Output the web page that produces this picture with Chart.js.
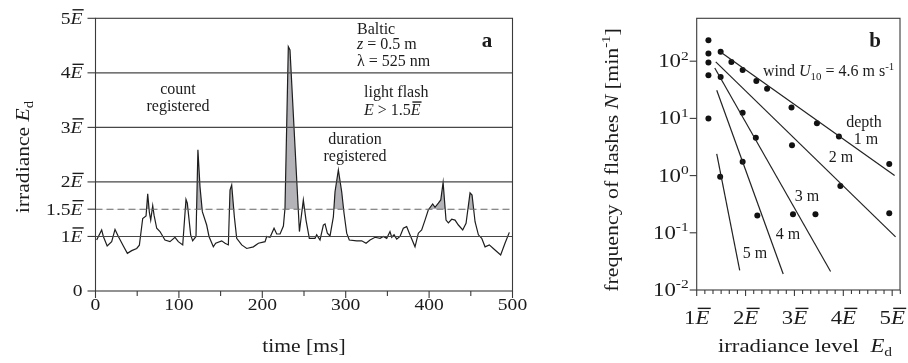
<!DOCTYPE html>
<html>
<head>
<meta charset="utf-8">
<script src="https://cdn.jsdelivr.net/npm/chart.js@4.4.0/dist/chart.umd.min.js"></script>
<style>
  body { margin: 0; background: #fff; }
  #wrap { position: relative; width: 908px; height: 363px; overflow: hidden; }
  canvas { position: absolute; top: 0; }
  #chart-a { left: 0; }
  #chart-b { left: 560px; }
</style>
</head>
<body>
<div id="wrap">
  <canvas id="chart-a" width="540" height="363"></canvas>
  <canvas id="chart-b" width="348" height="363"></canvas>
</div>
<script>
// Panel a: irradiance trace (time in ms, irradiance in units of mean E)
const timeMs = [1.4, 7.4, 9.4, 14, 19.4, 23.4, 27.4, 33.4, 38.2, 43.4, 49.4, 52.6, 56.6, 60.6, 62.6, 64.6, 66.2, 68.6, 70.2, 73.4,
  77.3, 83.3, 89.3, 95.3, 99.3, 104.6, 108.5, 110.1, 114.1, 116.5, 120.5, 122.8, 125.3, 128.1, 133.3, 136.1, 141.3, 144.1, 151.3, 155.3,
  159.3, 161.3, 163.3, 166.5, 169.3, 175.3, 181.3, 189.3, 195.3, 203.3, 205.3, 209.3, 214.1, 217.3, 221.3, 225.3, 227.2, 231.2, 233.2, 244.5,
  249.2, 252.4, 256.4, 263.2, 265.2, 269.2, 273.2, 275.2, 278, 281.2, 285.2, 287.2, 291.2, 295.2, 298, 301.2, 304.3, 313.2, 319.2, 324.4,
  329.2, 335.2, 341.2, 345.1, 349.2, 353.1, 355.2, 358, 361.2, 365.1, 369.1, 373.1, 376.3, 383.1, 387.1, 391.1, 395.1, 399, 404.3, 407.1,
  411.1, 414, 416.8, 420.3, 423.1, 427.1, 431.1, 435.1, 440.3, 444.3, 449.1, 451.5, 455.1, 459.1, 463.1, 467.1, 472.2, 477, 485.8, 491, 496.2];
const irradiance = [0.935, 1.12, 1.0, 0.825, 0.905, 1.13, 1.0, 0.825, 0.69, 0.74, 0.78, 0.84, 1.33, 1.375, 1.78, 1.44, 1.30, 1.565, 1.39, 1.15,
  1.09, 0.935, 0.905, 0.985, 0.905, 0.845, 1.68, 1.61, 1.03, 0.92, 1.0, 2.59, 1.91, 1.455, 1.21, 1.0, 0.81, 0.875, 0.92, 0.875,
  0.845, 1.85, 1.945, 1.36, 0.965, 0.845, 0.78, 0.81, 0.875, 0.905, 1.0, 0.985, 1.15, 1.045, 1.045, 1.19, 1.515, 4.48, 4.42, 1.09,
  1.67, 1.30, 0.965, 0.965, 1.03, 0.935, 1.21, 1.23, 1.06, 1.01, 1.36, 1.82, 2.22, 1.82, 1.425, 1.06, 0.935, 0.92, 0.92, 0.875,
  0.935, 0.985, 0.965, 1.0, 0.965, 1.09, 0.985, 1.03, 0.95, 1.0, 1.15, 1.18, 1.06, 0.81, 1.06, 1.12, 1.30, 1.485, 1.595, 1.535,
  1.61, 1.67, 1.99, 1.30, 1.25, 1.315, 1.30, 1.21, 1.12, 1.24, 1.80, 1.76, 1.27, 1.03, 0.965, 0.81, 0.845, 0.78, 0.66, 0.875, 1.075];
const gridLevels = [1, 2, 3, 4];
const flashThreshold = 1.5;
const yTicksA = [0, 1, 1.5, 2, 3, 4, 5];
const xTicksA = [0, 100, 200, 300, 400, 500];

// Panel b: flash frequency vs irradiance level, per depth
const pointsX1m = [1.24, 1.49, 1.71, 1.94, 2.22, 2.44, 2.94, 3.46, 3.91, 4.94];
const pointsY1m = [233, 146, 97, 70, 45, 33, 15.5, 8.2, 4.8, 1.6];
const pointsX2m = [1.24, 1.49, 1.94, 2.21, 2.95, 3.94, 4.94];
const pointsY2m = [136, 53, 12.5, 4.6, 3.4, 0.66, 0.22];
const pointsX3m = [1.24, 1.94, 2.97, 3.43];
const pointsY3m = [95, 1.75, 0.21, 0.21];
const pointsX4m = [1.24, 2.24];
const pointsY4m = [57, 0.2];
const pointsX5m = [1.24, 1.48];
const pointsY5m = [10, 0.95];

// fitted lines (end points)
const fitX1m = [1.48, 5.05], fitY1m = [146, 1.0];
const fitX2m = [1.39, 5.07], fitY2m = [97, 0.085];
const fitX3m = [1.37, 3.74], fitY3m = [76, 0.021];
const fitX4m = [1.41, 2.77], fitY4m = [31, 0.019];
const fitX5m = [1.41, 1.88], fitY5m = [2.4, 0.022];

const xTicksB = [1, 2, 3, 4, 5];
const yTicksB = [0.01, 0.1, 1, 10, 100];
const yExpB = ['-2', '-1', '0', '1', '2'];

const SERIF = '"Liberation Serif", "DejaVu Serif", serif';
const INK = '#1c1c1c';

function fontFor(p, size) {
  const s = (p.sub || p.sup) ? size * 0.68 : size;
  return (p.it ? 'italic ' : '') + (p.b ? 'bold ' : '') + s + 'px ' + SERIF;
}

// draw a run of text pieces (italic, sub/superscript, overline)
function rich(ctx, parts, x, y, { size = 16, align = 'left', stretch = 1, rotate = 0 } = {}) {
  ctx.save();
  ctx.translate(x, y);
  if (rotate) ctx.rotate(rotate);
  ctx.scale(stretch, 1);
  ctx.fillStyle = INK;
  ctx.strokeStyle = INK;
  ctx.textAlign = 'left';
  ctx.textBaseline = 'middle';
  const widths = parts.map(p => { ctx.font = fontFor(p, size); return ctx.measureText(p.t).width; });
  const total = widths.reduce((a, b) => a + b, 0);
  let cx = align === 'right' ? -total : align === 'center' ? -total / 2 : 0;
  parts.forEach((p, i) => {
    ctx.font = fontFor(p, size);
    const dy = p.sub ? size * 0.3 : p.sup ? -size * 0.32 : 0;
    ctx.fillText(p.t, cx, dy);
    if (p.bar) {
      ctx.lineWidth = 1.4;
      ctx.beginPath();
      ctx.moveTo(cx + size * 0.1, -size * 0.56);
      ctx.lineTo(cx + widths[i] + size * 0.06, -size * 0.56);
      ctx.stroke();
    }
    cx += widths[i];
  });
  ctx.restore();
}

const ebar = n => [{ t: n }, { t: 'E', it: true, bar: true }];

function seg(ctx, x1, y1, x2, y2) {
  ctx.beginPath();
  ctx.moveTo(x1, y1);
  ctx.lineTo(x2, y2);
  ctx.stroke();
}

const panelA = {
  id: 'panelA',
  afterDatasetsDraw(chart) {
    const { ctx, chartArea: a, scales: { y } } = chart;
    ctx.save();
    ctx.strokeStyle = '#474747';
    ctx.lineWidth = 1.1;
    gridLevels.forEach(v => seg(ctx, a.left, y.getPixelForValue(v), a.right, y.getPixelForValue(v)));
    ctx.strokeStyle = '#6a6a6a';
    ctx.setLineDash([7, 4]);
    const py = y.getPixelForValue(flashThreshold);
    seg(ctx, a.left, py, a.right, py);
    ctx.restore();
  },
  afterDraw(chart) {
    const { ctx, chartArea: a, scales: { x, y } } = chart;
    ctx.save();
    ctx.strokeStyle = '#3a3a3a';
    ctx.lineWidth = 1.1;
    ctx.strokeRect(a.left, a.top, a.right - a.left, a.bottom - a.top);

    // x ticks every 50 ms
    for (let t = 0; t <= 500; t += 50) {
      const px = x.getPixelForValue(t);
      seg(ctx, px, a.bottom, px, a.bottom + (t % 100 === 0 ? 7 : 5));
    }
    xTicksA.forEach(t => rich(ctx, [{ t: String(t) }], x.getPixelForValue(t), a.bottom + 15, { size: 17, align: 'center', stretch: 1.15 }));

    // y ticks
    yTicksA.forEach(v => {
      const py2 = y.getPixelForValue(v);
      seg(ctx, a.left - 8, py2, a.left, py2);
      const parts = v === 0 ? [{ t: '0' }] : ebar(String(v));
      rich(ctx, parts, a.left - 13, py2 + 1, { size: 17, align: 'right', stretch: 1.15 });
    });

    rich(ctx, [{ t: 'time [ms]' }], 304, 347, { size: 18, align: 'center', stretch: 1.2 });
    rich(ctx, [{ t: 'irradiance ' }, { t: 'E', it: true }, { t: 'd', sub: true }], 24, 157,
      { size: 18, align: 'center', stretch: 1.2, rotate: -Math.PI / 2 });

    // annotations
    rich(ctx, [{ t: 'count' }], 178, 90, { size: 16, align: 'center' });
    rich(ctx, [{ t: 'registered' }], 178, 107, { size: 16, align: 'center' });
    rich(ctx, [{ t: 'Baltic' }], 357, 30, { size: 16 });
    rich(ctx, [{ t: 'z', it: true }, { t: ' = 0.5 m' }], 357, 45, { size: 16 });
    rich(ctx, [{ t: 'λ = 525 nm' }], 357, 62, { size: 16 });
    rich(ctx, [{ t: 'a', b: true }], 487, 42, { size: 21, align: 'center' });
    rich(ctx, [{ t: 'light flash' }], 364, 93, { size: 16 });
    rich(ctx, [{ t: 'E', it: true }, { t: ' > 1.5' }, { t: 'E', it: true, bar: true }], 364, 111, { size: 16 });
    rich(ctx, [{ t: 'duration' }], 355, 140, { size: 16, align: 'center' });
    rich(ctx, [{ t: 'registered' }], 355, 157, { size: 16, align: 'center' });
    ctx.restore();
  }
};

const panelB = {
  id: 'panelB',
  afterDraw(chart) {
    const { ctx, chartArea: a, scales: { x, y } } = chart;
    ctx.save();
    ctx.strokeStyle = '#3a3a3a';
    ctx.lineWidth = 1.1;
    ctx.strokeRect(a.left, a.top, a.right - a.left, a.bottom - a.top);

    // x ticks, six per unit
    for (let k = 0; k <= 25; k++) {
      const v = 1 + k / 6;
      const px = x.getPixelForValue(v);
      if (px > a.right + 0.5) break;
      seg(ctx, px, a.bottom, px, a.bottom + (k % 6 === 0 ? 6 : 4));
    }
    xTicksB.forEach(v => rich(ctx, ebar(String(v)), x.getPixelForValue(v), a.bottom + 29, { size: 19, align: 'center', stretch: 1.2 }));

    yTicksB.forEach((v, i) => {
      const py = y.getPixelForValue(v);
      seg(ctx, a.left - 7, py, a.left, py);
      rich(ctx, [{ t: '10' }, { t: yExpB[i], sup: true }], a.left - 8, py + 1, { size: 19, align: 'right', stretch: 1.2 });
    });

    rich(ctx, [{ t: 'irradiance level  ' }, { t: 'E', it: true }, { t: 'd', sub: true }], 245, 347, { size: 19, align: 'center', stretch: 1.2 });
    rich(ctx, [{ t: 'frequency of flashes ' }, { t: 'N', it: true }, { t: ' [min' }, { t: '-1', sup: true }, { t: ']' }], 53, 160,
      { size: 19, align: 'center', stretch: 1.15, rotate: -Math.PI / 2 });

    rich(ctx, [{ t: 'b', b: true }], 315, 42, { size: 21, align: 'center' });
    rich(ctx, [{ t: 'wind ' }, { t: 'U', it: true }, { t: '10', sub: true }, { t: ' = 4.6 m s' }, { t: '-1', sup: true }], 203, 72, { size: 16 });
    rich(ctx, [{ t: 'depth' }], 304, 123, { size: 16, align: 'center' });
    rich(ctx, [{ t: '1 m' }], 306, 140, { size: 16, align: 'center' });
    rich(ctx, [{ t: '2 m' }], 281, 158, { size: 16, align: 'center' });
    rich(ctx, [{ t: '3 m' }], 247, 197, { size: 16, align: 'center' });
    rich(ctx, [{ t: '4 m' }], 228, 235, { size: 16, align: 'center' });
    rich(ctx, [{ t: '5 m' }], 195, 254, { size: 16, align: 'center' });
    ctx.restore();
  }
};

new Chart(document.getElementById('chart-a'), {
  type: 'line',
  data: {
    datasets: [{
      data: timeMs.map((t, i) => ({ x: t, y: irradiance[i] })),
      borderColor: '#1e1e1e',
      borderWidth: 1.2,
      pointRadius: 0,
      tension: 0,
      fill: { target: { value: flashThreshold }, above: '#b4b4b8', below: 'rgba(0,0,0,0)' }
    }]
  },
  options: {
    responsive: false,
    animation: false,
    layout: { padding: { left: 95.5, right: 540 - 512.5, top: 18.3, bottom: 363 - 291 } },
    plugins: { legend: { display: false }, tooltip: { enabled: false } },
    scales: {
      x: { type: 'linear', min: 0, max: 500, display: false },
      y: { min: 0, max: 5, display: false }
    }
  },
  plugins: [panelA]
});

const pts = (xs, ys) => xs.map((v, i) => ({ x: v, y: ys[i] }));
const dots = data => ({ data, showLine: false, pointRadius: 3, pointBackgroundColor: '#111', pointBorderWidth: 0 });
const fit = data => ({ data, showLine: true, pointRadius: 0, borderColor: '#222', borderWidth: 1.2 });

new Chart(document.getElementById('chart-b'), {
  type: 'scatter',
  data: {
    datasets: [
      fit(pts(fitX1m, fitY1m)), fit(pts(fitX2m, fitY2m)), fit(pts(fitX3m, fitY3m)),
      fit(pts(fitX4m, fitY4m)), fit(pts(fitX5m, fitY5m)),
      dots(pts(pointsX1m, pointsY1m)), dots(pts(pointsX2m, pointsY2m)), dots(pts(pointsX3m, pointsY3m)),
      dots(pts(pointsX4m, pointsY4m)), dots(pts(pointsX5m, pointsY5m))
    ]
  },
  options: {
    responsive: false,
    animation: false,
    layout: { padding: { left: 136.7, right: 8, top: 18.3, bottom: 73 } },
    plugins: { legend: { display: false }, tooltip: { enabled: false } },
    scales: {
      x: { type: 'linear', min: 1, max: 5.16, display: false },
      y: { type: 'logarithmic', min: 0.01, max: 562, display: false }
    }
  },
  plugins: [panelB]
});
</script>
</body>
</html>
